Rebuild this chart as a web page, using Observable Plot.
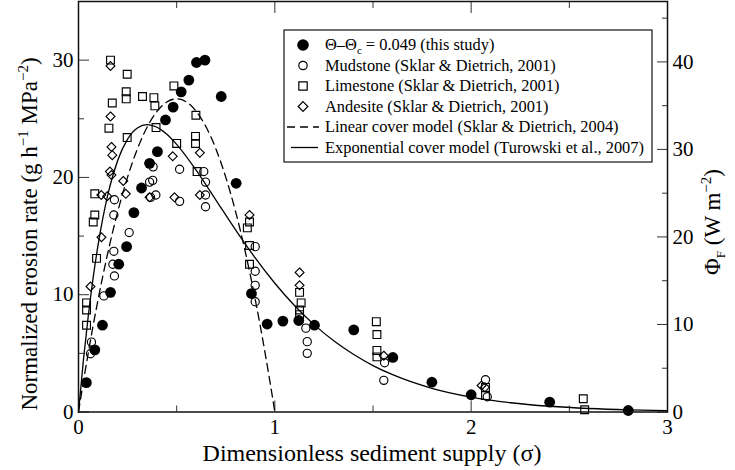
<!DOCTYPE html>
<html><head><meta charset="utf-8">
<script src="https://cdn.jsdelivr.net/npm/d3@7"></script>
<script src="https://cdn.jsdelivr.net/npm/@observablehq/plot@0.6"></script>
<style>body{margin:0;background:#fff;}</style>
</head><body><div id="chart"></div>
<script>
// ---- data ----
const studyX = [0.04,0.083,0.122,0.163,0.205,0.245,0.282,0.321,0.362,0.402,0.443,0.482,0.523,0.562,0.601,0.644,0.727,0.803,0.881,0.961,1.041,1.122,1.202,1.402,1.601,1.8,2.0,2.4,2.8];
const studyY = [2.5,5.3,7.4,10.2,12.6,14.1,17.0,19.1,21.2,22.2,24.9,26.0,27.3,28.3,29.8,30.0,26.9,19.5,10.1,7.5,7.75,7.8,7.4,7.0,4.65,2.54,1.47,0.84,0.13];

const mudX = [0.061,0.066,0.129,0.175,0.183,0.18,0.258,0.18,0.183,0.362,0.367,0.378,0.38,0.394,0.515,0.515,0.638,0.647,0.647,0.647,0.9,0.9,0.9,0.9,1.158,1.165,1.165,1.559,1.555,2.073,2.082];
const mudY = [4.97,5.96,9.9,12.6,11.6,13.7,15.3,16.8,18.1,19.6,18.3,19.75,20.9,18.5,20.7,17.96,20.5,19.6,18.5,17.5,14.1,12.0,10.8,9.4,7.15,6.0,5.0,4.2,2.7,2.75,1.3];

const limeX = [0.041,0.041,0.041,0.075,0.083,0.083,0.092,0.155,0.163,0.172,0.243,0.243,0.248,0.248,0.326,0.384,0.389,0.395,0.486,0.5,0.596,0.596,0.598,0.604,0.86,0.871,0.871,0.871,1.126,1.134,1.126,1.126,1.517,1.52,1.52,1.52,2.073,2.073,2.571,2.578];
const limeY = [9.3,8.7,7.4,16.2,16.8,18.6,13.1,24.2,30.0,26.35,27.3,26.7,28.8,23.4,26.9,26.8,26.1,24.25,27.8,22.9,23.5,22.9,25.3,20.5,15.7,16.2,14.2,12.6,10.2,9.3,8.7,8.3,7.7,6.6,5.25,4.7,2.1,1.4,1.13,0.19];

const andX = [0.061,0.116,0.117,0.146,0.16,0.168,0.163,0.163,0.168,0.172,0.228,0.241,0.362,0.48,0.489,0.618,0.618,0.871,1.126,1.126,1.555,2.053,2.07];
const andY = [10.7,18.5,14.9,18.4,20.5,20.2,29.5,25.2,22.6,21.9,19.7,18.6,18.3,21.8,18.3,22.1,18.5,16.8,11.9,10.8,4.8,2.26,2.1];

// model curves
const linX = [0,0.025,0.05,0.1,0.15,0.2,0.25,0.3,0.35,0.4,0.45,0.5,0.55,0.6,0.65,0.7,0.75,0.8,0.85,0.9,0.95,0.975,1.0];
const linY = [0,2.6,5.07,9.61,13.62,17.09,20.03,22.43,24.3,25.63,26.43,26.7,26.43,25.63,24.3,22.43,20.03,17.09,13.62,9.61,5.07,2.6,0];

const expX = [0,0.025,0.05,0.075,0.1,0.15,0.2,0.25,0.3,0.35,0.4,0.45,0.5,0.6,0.7,0.8,0.9,1.0,1.1,1.2,1.3,1.4,1.5,1.6,1.8,2.0,2.2,2.4,2.6,2.8,3.0];
const expY = [0,4.42,8.23,11.5,14.27,18.57,21.47,23.27,24.22,24.5,24.28,23.69,22.82,20.6,18.07,15.53,13.14,10.98,9.08,7.45,6.07,4.92,3.96,3.18,2.02,1.27,0.79,0.49,0.3,0.18,0.11];

// axes
const xMajor = [0,1,2,3], xMinor = [0.5,1.5,2.5];
const yMajor = [0,10,20,30], yMinor = [5,15,25];
const rMajor = [0,10,20,30,40], rMinor = [5,15,25,35,45];
const yMax = 35, rMax = 46.9;

const legendLabels = ["Mudstone (Sklar & Dietrich, 2001)","Limestone (Sklar & Dietrich, 2001)","Andesite (Sklar & Dietrich, 2001)","Linear cover model (Sklar & Dietrich, 2004)","Exponential cover model (Turowski et al., 2007)"];

// ---- build ----
const zip = (X, Y) => X.map((x, i) => ({x, y: Y[i]}));
const k = yMax / rMax;
const tickCol = "#333";

const plot = Plot.plot({
  width: 735, height: 470,
  marginLeft: 78, marginRight: 68, marginTop: 1, marginBottom: 58.5,
  style: {fontFamily: "'Liberation Serif', 'Times New Roman', serif", fontSize: "21px", background: "white", color: "black"},
  x: {domain: [0, 3]},
  y: {domain: [0, yMax]},
  marks: [
    Plot.axisX(xMajor, {anchor: "bottom", tickSize: -11, fill: "none", stroke: tickCol}),
    Plot.axisX(xMinor, {anchor: "bottom", tickSize: -6, fill: "none", stroke: tickCol}),
    Plot.axisX(xMajor, {anchor: "top", tickSize: -11, fill: "none", stroke: tickCol}),
    Plot.axisX(xMinor, {anchor: "top", tickSize: -6, fill: "none", stroke: tickCol}),
    Plot.axisX(xMajor, {anchor: "bottom", tickSize: 0, tickPadding: 7, label: null, tickFormat: d => String(d)}),
    Plot.axisY(yMajor, {anchor: "left", tickSize: -11, fill: "none", stroke: tickCol}),
    Plot.axisY(yMinor, {anchor: "left", tickSize: -6, fill: "none", stroke: tickCol}),
    Plot.axisY(yMajor, {anchor: "left", tickSize: 0, tickPadding: 5, label: null, tickFormat: d => String(d)}),
    Plot.axisY(rMajor.map(v => v * k), {anchor: "right", tickSize: -11, fill: "none", stroke: tickCol}),
    Plot.axisY(rMinor.map(v => v * k), {anchor: "right", tickSize: -6, fill: "none", stroke: tickCol}),
    Plot.axisY(rMajor.map(v => v * k), {anchor: "right", tickSize: 0, tickPadding: 5, label: null, tickFormat: d => String(Math.round(d / k))}),
    Plot.line(zip(linX, linY), {x: "x", y: "y", stroke: "black", strokeWidth: 1.3, strokeDasharray: "8,5", curve: "monotone-x"}),
    Plot.line(zip(expX, expY), {x: "x", y: "y", stroke: "black", strokeWidth: 1.3, curve: "monotone-x"}),
    Plot.dot(zip(mudX, mudY), {x: "x", y: "y", r: 4.1, stroke: "black", fill: "none", strokeWidth: 1.15}),
    Plot.dot(zip(limeX, limeY), {x: "x", y: "y", symbol: "square", r: 4.4, stroke: "black", fill: "none", strokeWidth: 1.15}),
    Plot.dot(zip(andX, andY), {x: "x", y: "y", symbol: "diamond2", r: 4.0, stroke: "black", fill: "none", strokeWidth: 1.15}),
    Plot.dot(zip(studyX, studyY), {x: "x", y: "y", r: 5.4, fill: "black", stroke: "none"}),
    Plot.frame({stroke: "#111", strokeWidth: 1.5})
  ]
});

const svg = d3.select(plot);
const serif = "'Liberation Serif', 'Times New Roman', serif";

// x title
svg.append("text").attr("x", 372).attr("y", 461).attr("text-anchor", "middle")
  .style("font-family", serif).style("font-size", "24px").text("Dimensionless sediment supply (σ)");

// left title
const lt = svg.append("text").attr("transform", "translate(37,234) rotate(-90)").attr("text-anchor", "middle")
  .style("font-family", serif).style("font-size", "23px");
lt.append("tspan").text("Normalized erosion rate (g h");
lt.append("tspan").attr("dy", -9).style("font-size", "15px").text("−1");
lt.append("tspan").attr("dy", 9).text(" MPa");
lt.append("tspan").attr("dy", -9).style("font-size", "15px").text("−2");
lt.append("tspan").attr("dy", 9).text(")");

// right title
const rt = svg.append("text").attr("transform", "translate(720,222) rotate(-90)").attr("text-anchor", "middle")
  .style("font-family", serif).style("font-size", "23px");
rt.append("tspan").text("Φ");
rt.append("tspan").attr("dy", 5).style("font-size", "13px").text("F");
rt.append("tspan").attr("dy", -5).text(" (W m");
rt.append("tspan").attr("dy", -9).style("font-size", "15px").text("−2");
rt.append("tspan").attr("dy", 9).text(")");

// legend
const lg = svg.append("g").style("font-family", serif).style("font-size", "16.4px").attr("text-anchor", "start");
lg.append("rect").attr("x", 284).attr("y", 30).attr("width", 368).attr("height", 132)
  .attr("fill", "white").attr("stroke", "#111").attr("stroke-width", 1.2);
const rows = [45, 65.5, 86, 106.5, 127, 147.5];
const sx = 303, tx = 325;
lg.append("circle").attr("cx", sx).attr("cy", rows[0]).attr("r", 5.8).attr("fill", "black");
lg.append("circle").attr("cx", sx).attr("cy", rows[1]).attr("r", 4.2).attr("fill", "none").attr("stroke", "black").attr("stroke-width", 1.2);
lg.append("path").attr("d", d3.symbol(d3.symbolSquare, 70)()).attr("transform", `translate(${sx},${rows[2]})`).attr("fill", "none").attr("stroke", "black").attr("stroke-width", 1.2);
lg.append("path").attr("d", d3.symbol(d3.symbolDiamond2, 60)()).attr("transform", `translate(${sx},${rows[3]})`).attr("fill", "none").attr("stroke", "black").attr("stroke-width", 1.2);
lg.append("line").attr("x1", 287).attr("x2", 319).attr("y1", rows[4]).attr("y2", rows[4]).attr("stroke", "black").attr("stroke-width", 1.3).attr("stroke-dasharray", "8,5");
lg.append("line").attr("x1", 291).attr("x2", 318).attr("y1", rows[5]).attr("y2", rows[5]).attr("stroke", "black").attr("stroke-width", 1.3);
const t0 = lg.append("text").attr("x", tx).attr("y", rows[0] + 5).attr("text-anchor", "start");
t0.append("tspan").text("Θ–Θ");
t0.append("tspan").attr("dy", 4).style("font-size", "11px").text("c");
t0.append("tspan").attr("dy", -4).text(" = 0.049 (this study)");
legendLabels.forEach((s, i) => lg.append("text").attr("x", tx).attr("y", rows[i + 1] + 5).attr("text-anchor", "start").text(s));

document.getElementById("chart").appendChild(plot);
</script>
</body></html>
